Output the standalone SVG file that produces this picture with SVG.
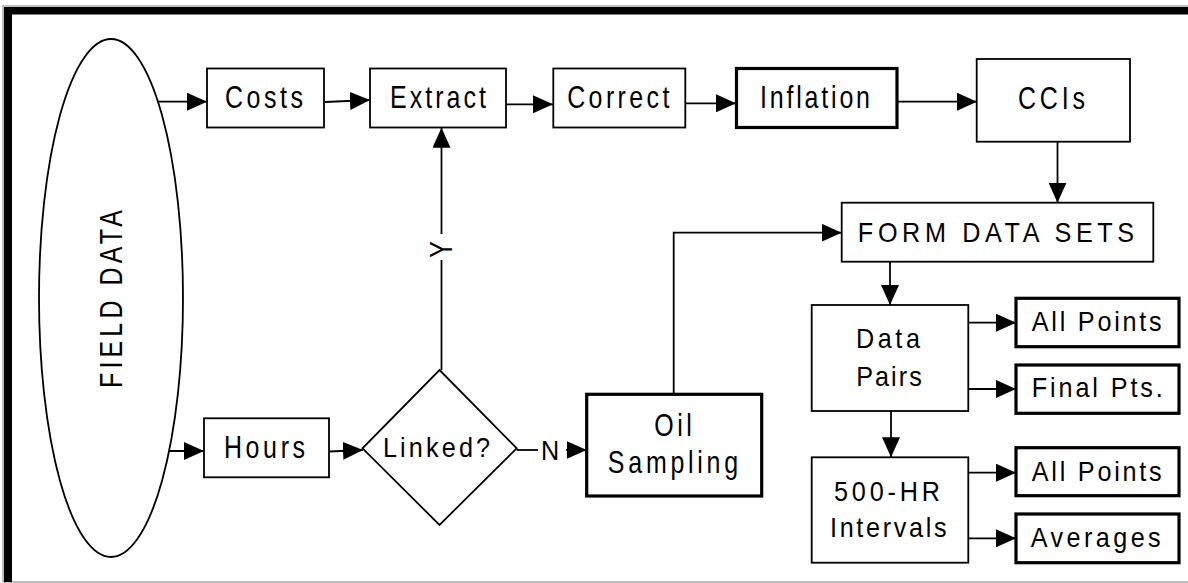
<svg xmlns="http://www.w3.org/2000/svg" width="1188" height="583" viewBox="0 0 1188 583">
  <style>
    .box { fill: #fff; stroke: #000; stroke-width: 1.8; }
    .thick { fill: #fff; stroke: #000; stroke-width: 3.2; }
    .lbl { font-family: "Liberation Sans", Arial, sans-serif; font-size: 32px; fill: #000; text-anchor: middle; }
    .sm { font-size: 28px; }
    .conn { fill: none; stroke: #000; stroke-width: 1.8; }
  </style>
  <defs>
    <marker id="arr" markerUnits="userSpaceOnUse" markerWidth="21" markerHeight="18" refX="20" refY="9" orient="auto">
      <path d="M0,0 L20,9 L0,18 z" fill="#000"/>
    </marker>
  </defs>
  <rect x="0" y="0" width="1188" height="583" fill="#fff"/>
  <g id="frame">
    <path d="M3,582 V6 H1188 M3,582 H1188" fill="none" stroke="#aaa" stroke-width="1.5"/>
    <rect x="4" y="7" width="1184" height="7.5" fill="#000"/>
    <rect x="4" y="7" width="8" height="575" fill="#000"/>
  </g>

  <g id="connectors">
    <path class="conn" d="M158,101.7 H207" marker-end="url(#arr)"/>
    <path class="conn" d="M325,102 L370,100" marker-end="url(#arr)"/>
    <path class="conn" d="M506,104.3 H553" marker-end="url(#arr)"/>
    <path class="conn" d="M685,103.3 H736" marker-end="url(#arr)"/>
    <path class="conn" d="M897,101.7 H977" marker-end="url(#arr)"/>
    <path class="conn" d="M1057.5,141.7 V202.7" marker-end="url(#arr)"/>
    <path class="conn" d="M168,451 H204" marker-end="url(#arr)"/>
    <path class="conn" d="M329,451.5 L363,450" marker-end="url(#arr)"/>
    <path class="conn" d="M516.7,450 H538"/>
    <path class="conn" d="M566,450 H586.7" marker-end="url(#arr)"/>
    <path class="conn" d="M441.5,370 V260"/>
    <path class="conn" d="M441.5,234 V127.7" marker-end="url(#arr)"/>
    <path class="conn" d="M673.7,394.3 V232.7 H841.7" marker-end="url(#arr)"/>
    <path class="conn" d="M890,261.7 V305" marker-end="url(#arr)"/>
    <path class="conn" d="M968.3,322.7 H1016" marker-end="url(#arr)"/>
    <path class="conn" d="M968.3,389 H1016" marker-end="url(#arr)"/>
    <path class="conn" d="M891,411 V457.3" marker-end="url(#arr)"/>
    <path class="conn" d="M968.3,472.7 H1016" marker-end="url(#arr)"/>
    <path class="conn" d="M968.3,538.3 H1016" marker-end="url(#arr)"/>
    <text class="lbl sm" transform="translate(550,460) scale(0.9,1)">N</text>
    <text class="lbl" transform="translate(452,249.5) rotate(-90) scale(0.78,1)">Y</text>
  </g>

  <g id="field-data">
    <ellipse cx="111" cy="298" rx="72" ry="259" fill="#fff" stroke="#000" stroke-width="1.8"/>
    <text class="lbl" transform="translate(121.5,299) rotate(-90) scale(0.78,1)" textLength="228" lengthAdjust="spacing">FIELD DATA</text>
  </g>
  <g id="costs">
    <rect class="box" x="207" y="68.5" width="117" height="59"/>
    <text class="lbl" transform="translate(264,108.3) scale(0.78,1)" textLength="100" lengthAdjust="spacing">Costs</text>
  </g>
  <g id="extract">
    <rect class="box" x="370" y="68.5" width="136" height="59"/>
    <text class="lbl" transform="translate(438,108.3) scale(0.78,1)" textLength="123" lengthAdjust="spacing">Extract</text>
  </g>
  <g id="correct">
    <rect class="box" x="553.3" y="68.5" width="132" height="59"/>
    <text class="lbl" transform="translate(618.3,108.3) scale(0.78,1)" textLength="131" lengthAdjust="spacing">Correct</text>
  </g>
  <g id="inflation">
    <rect class="thick" x="736.5" y="68.5" width="160.5" height="59"/>
    <text class="lbl" transform="translate(815,108.3) scale(0.78,1)" textLength="141" lengthAdjust="spacing">Inflation</text>
  </g>
  <g id="ccis">
    <rect class="box" x="976.7" y="59" width="153.3" height="82.7"/>
    <text class="lbl" transform="translate(1051.5,109.3) scale(0.78,1)" textLength="86" lengthAdjust="spacing">CCIs</text>
  </g>
  <g id="form-data-sets">
    <rect class="box" x="841.7" y="202.7" width="311.6" height="59"/>
    <text class="lbl sm" transform="translate(996,241.7) scale(0.9,1)" textLength="307" lengthAdjust="spacing">FORM DATA SETS</text>
  </g>
  <g id="data-pairs">
    <rect class="box" x="811.7" y="305" width="156.6" height="106"/>
    <text class="lbl sm" transform="translate(888,348) scale(0.9,1)" textLength="71" lengthAdjust="spacing">Data</text>
    <text class="lbl sm" transform="translate(889,386) scale(0.9,1)" textLength="73" lengthAdjust="spacing">Pairs</text>
  </g>
  <g id="all-points-1">
    <rect class="thick" x="1016" y="298.3" width="163" height="48.4"/>
    <text class="lbl sm" transform="translate(1096.7,330.7) scale(0.9,1)" textLength="144.4" lengthAdjust="spacing">All Points</text>
  </g>
  <g id="final-pts">
    <rect class="thick" x="1016" y="365" width="163" height="48.3"/>
    <text class="lbl sm" transform="translate(1097.3,397) scale(0.9,1)" textLength="145.6" lengthAdjust="spacing">Final Pts.</text>
  </g>
  <g id="interval-500">
    <rect class="box" x="811.7" y="457.3" width="156.6" height="105.4"/>
    <text class="lbl sm" transform="translate(887,500.7) scale(0.9,1)" textLength="117.8" lengthAdjust="spacing">500-HR</text>
    <text class="lbl sm" transform="translate(888.3,536.7) scale(0.9,1)" textLength="129.7" lengthAdjust="spacing">Intervals</text>
  </g>
  <g id="all-points-2">
    <rect class="thick" x="1016" y="447.7" width="163" height="48"/>
    <text class="lbl sm" transform="translate(1096.7,480.7) scale(0.9,1)" textLength="144.4" lengthAdjust="spacing">All Points</text>
  </g>
  <g id="averages">
    <rect class="thick" x="1016" y="514" width="163" height="48.7"/>
    <text class="lbl sm" transform="translate(1095.7,546.7) scale(0.9,1)" textLength="144.4" lengthAdjust="spacing">Averages</text>
  </g>
  <g id="hours">
    <rect class="box" x="204" y="418.3" width="125" height="59"/>
    <text class="lbl" transform="translate(264.5,458.3) scale(0.78,1)" textLength="104" lengthAdjust="spacing">Hours</text>
  </g>
  <g id="linked">
    <polygon class="box" points="439.5,370 516.7,448.3 439.5,525 362.5,448.3"/>
    <text class="lbl sm" transform="translate(436.5,457.3) scale(0.9,1)" textLength="119" lengthAdjust="spacing">Linked?</text>
  </g>
  <g id="oil-sampling">
    <rect class="thick" x="586.7" y="394.3" width="175" height="101.7"/>
    <text class="lbl" transform="translate(673,436) scale(0.78,1)" textLength="48" lengthAdjust="spacing">Oil</text>
    <text class="lbl" transform="translate(673,473.3) scale(0.78,1)" textLength="167" lengthAdjust="spacing">Sampling</text>
  </g>
</svg>
